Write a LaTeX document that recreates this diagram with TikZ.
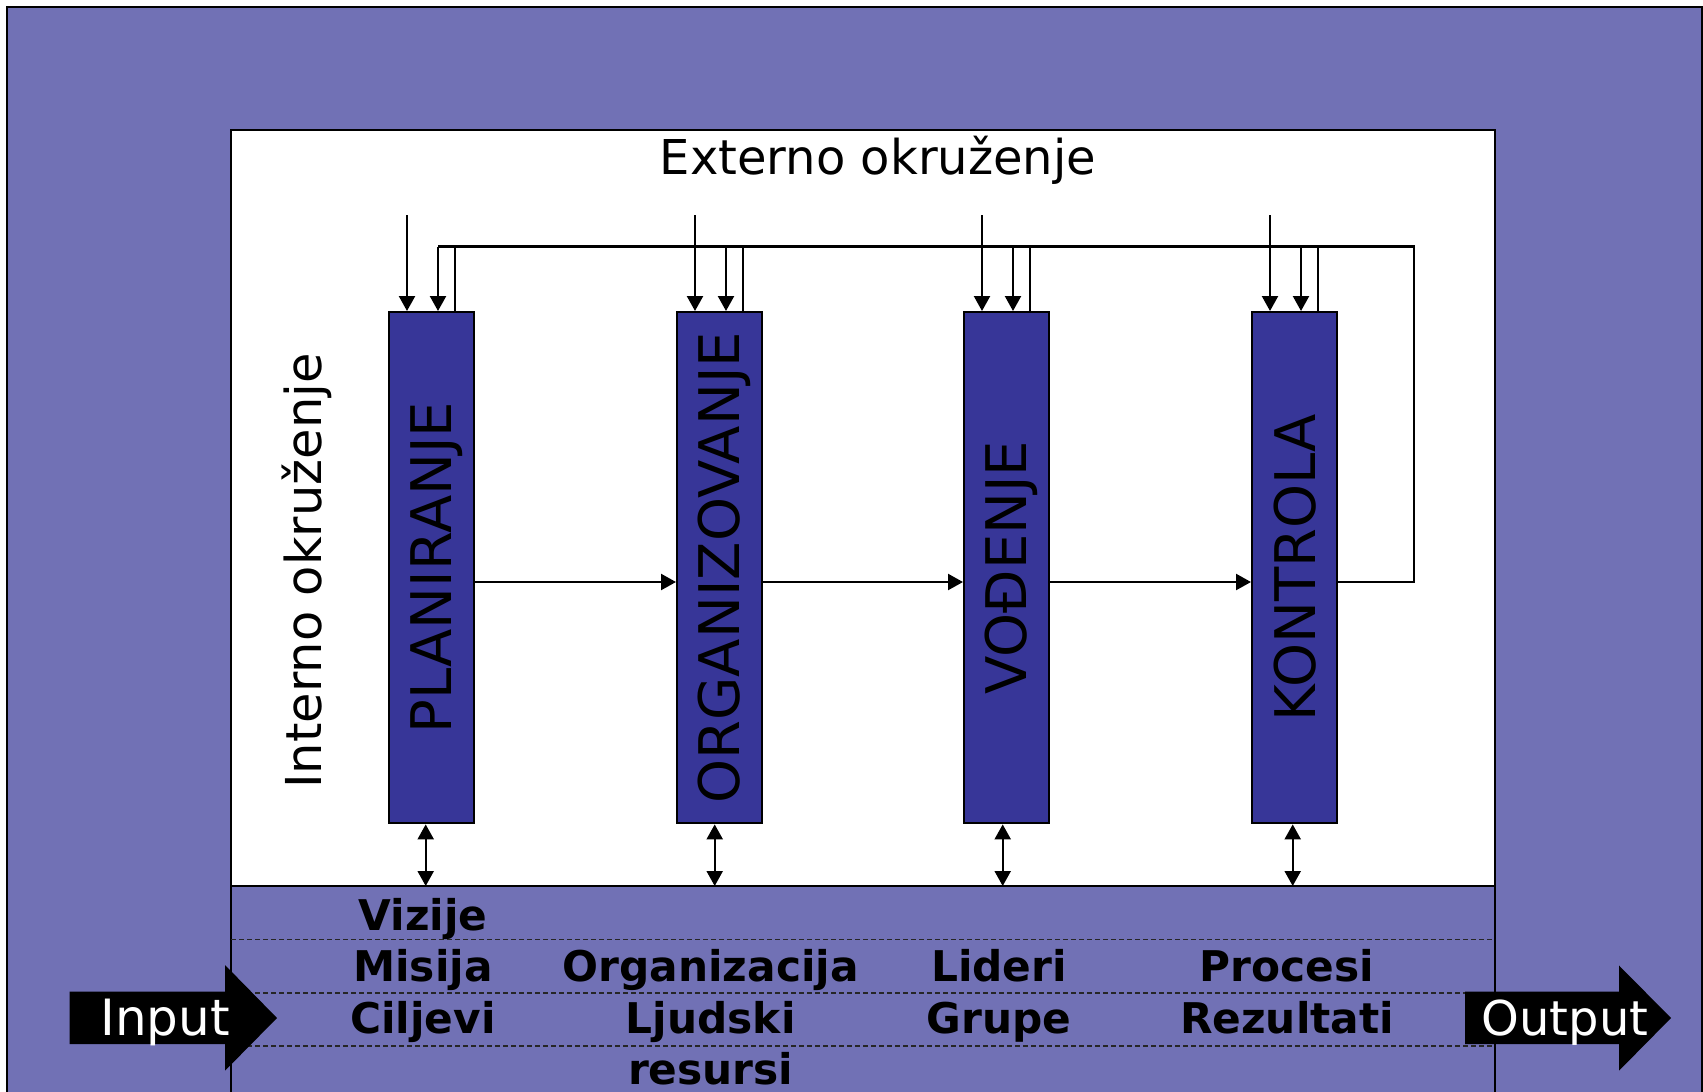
\documentclass[tikz,border=0pt]{standalone}
\usepackage{fontspec}
\setmainfont{DejaVu Sans}
\usetikzlibrary{arrows.meta}
\definecolor{lav}{RGB}{113,113,181}
\definecolor{boxblue}{RGB}{55,54,152}
\tikzset{
  funcbox/.style={draw=black,line width=2.4pt,fill=boxblue,minimum width=85pt,minimum height=511pt,inner sep=0pt,anchor=north west},
  conn/.style={line width=2.3pt,line join=miter},
  arr/.style={conn,-{Triangle[width=16pt,length=15pt]}},
  darr/.style={conn,{Triangle[width=16pt,length=15pt]}-{Triangle[width=16pt,length=15pt]}},
  vtext/.style={rotate=90,anchor=base,inner sep=0pt,font=\fontsize{56}{67}\selectfont},
  rowtext/.style={anchor=base,inner sep=0pt,font=\fontsize{42.3}{51}\selectfont\bfseries},
  iotext/.style={anchor=base,inner sep=0pt,text=white,font=\fontsize{48}{58}\selectfont},
  dashline/.style={line width=1.5pt,draw=black!85,dash pattern=on 5pt off 3pt},
}
\begin{document}
\begin{tikzpicture}[x=1pt,y=-1pt]
\useasboundingbox (0,0) rectangle (1703,1092);
\clip (0,0) rectangle (1703,1092);
% outer frame
\draw[fill=lav,line width=2.2pt] (7,7) rectangle (1702,1150);
% inner box
\fill[white] (231,130) rectangle (1495,886);
\fill[lav] (231,886) rectangle (1495,1150);
\draw[line width=2.2pt] (231,1150) -- (231,130) -- (1495,130) -- (1495,1150);
\draw[line width=2.6pt] (231,886) -- (1495,886);
% dashed rows
\draw[dashline] (231,939.5) -- (1495,939.5);
\draw[dashline] (231,993) -- (1495,993);
\draw[dashline] (231,1046) -- (1495,1046);

% titles
\node[anchor=base,inner sep=0pt,font=\fontsize{48}{58}\selectfont] (ext) at (878,174) {Externo okruženje};
\node[rotate=90,anchor=base,inner sep=0pt,font=\fontsize{49.5}{59}\selectfont] (int) at (321,571) {Interno okruženje};

% function boxes
\node[funcbox] (p) at (388,311) {};
\node[funcbox] (o) at (676,311) {};
\node[funcbox] (v) at (963,311) {};
\node[funcbox] (k) at (1251,311) {};
\node[vtext] (pt) at ([xshift=20pt]p.center) {PLANIRANJE};
\node[vtext] (ot) at ([xshift=20pt]o.center) {ORGANIZOVANJE};
\node[vtext] (vt) at ([xshift=20pt]v.center) {VOĐENJE};
\node[vtext] (kt) at ([xshift=21pt]k.center) {KONTROLA};

% top inputs
\foreach \b/\l in {p/388,o/676,v/963,k/1251}{
  \coordinate (\b-in) at (\l+19,215);
  \coordinate (\b-fb) at (\l+50,246.5);
  \coordinate (\b-out) at (\l+67,246.5);
  \draw[arr] (\b-in) -- (\b-in |- \b.north);
  \draw[arr] (\b-fb) -- (\b-fb |- \b.north);
  \draw[conn] (\b-out |- \b.north) -- (\b-out);
}
% feedback loop
\coordinate (fbR) at (1414,246.5);
\coordinate (fbC) at (1414,582);
\draw[conn] (p-fb) -- (fbR) -- (fbC) -- (fbC -| k.east);

% horizontal flow
\coordinate (hy) at (0,582);
\draw[arr] (p.east |- hy) -- (o.west |- hy);
\draw[arr] (o.east |- hy) -- (v.west |- hy);
\draw[arr] (v.east |- hy) -- (k.west |- hy);

% double arrows to band
\coordinate (band) at (0,886);
\draw[darr] ([xshift=-6pt]p.south) -- ([xshift=-6pt]p.south |- band);
\draw[darr] ([xshift=-5pt]o.south) -- ([xshift=-5pt]o.south |- band);
\draw[darr] ([xshift=-4pt]v.south) -- ([xshift=-4pt]v.south |- band);
\draw[darr] ([xshift=-2pt]k.south) -- ([xshift=-2pt]k.south |- band);

% row texts
\node[rowtext] (c1a) at (423,930) {Vizije};
\node[rowtext] (c1b) at (423,981) {Misija};
\node[rowtext] (c1c) at (423,1033) {Ciljevi};
\node[rowtext] (c2a) at (710.7,981) {Organizacija};
\node[rowtext] (c2b) at (710.7,1033) {Ljudski};
\node[rowtext] (c2c) at (710.7,1084) {resursi};
\node[rowtext] (c3a) at (999,981) {Lideri};
\node[rowtext] (c3b) at (999,1033) {Grupe};
\node[rowtext] (c4a) at (1287,981) {Procesi};
\node[rowtext] (c4b) at (1287,1033) {Rezultati};

% input / output arrows
\fill[black] (69.5,991.6) -- (225,991.6) -- (225,965) -- (277,1018) -- (225,1070.7) -- (225,1044) -- (69.5,1044) -- cycle;
\fill[black] (1465,991.6) -- (1619,991.6) -- (1619,965.5) -- (1671,1018) -- (1619,1070.7) -- (1619,1044) -- (1465,1044) -- cycle;
\node[iotext,font=\fontsize{50}{60}\selectfont] (inp) at (165,1035) {Input};
\node[iotext] (outp) at (1565,1035) {Output};
\end{tikzpicture}
\end{document}
